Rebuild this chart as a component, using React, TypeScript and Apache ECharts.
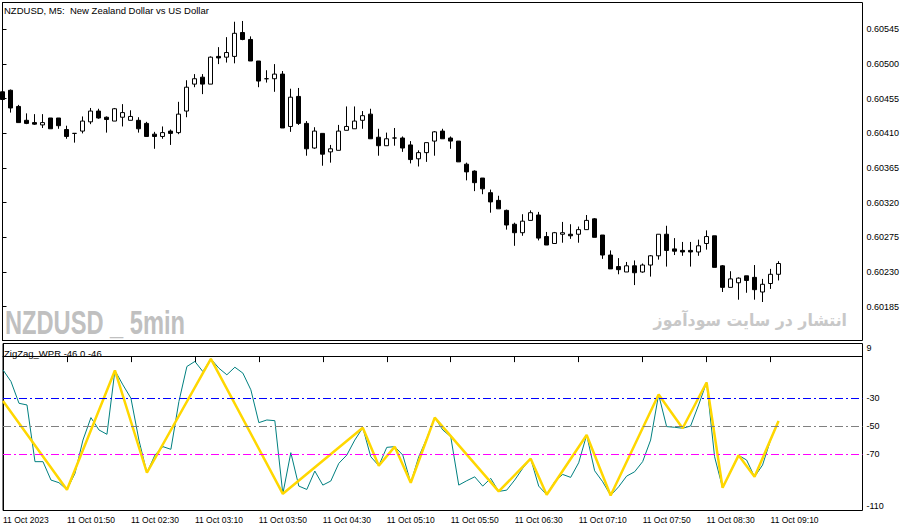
import React, { useEffect, useRef } from 'react';
import * as echarts from 'echarts';

// ---- price data (NZDUSD M5), one entry per bar, bar 0 = 11 Oct 01:10 ----
const opens = [0.60464,0.60466,0.60445,0.60427,0.60424,0.60421,0.60430,0.60430,0.60415,0.60410,
0.60413,0.60425,0.60439,0.60431,0.60426,0.60431,0.60427,0.60427,0.60423,0.60409,
0.60406,0.60413,0.60411,0.60439,0.60474,0.60483,0.60474,0.60510,0.60509,0.60510,
0.60541,0.60532,0.60504,0.60481,0.60481,0.60487,0.60419,0.60458,0.60423,0.60391,
0.60410,0.60386,0.60388,0.60414,0.60416,0.60427,0.60435,0.60405,0.60394,0.60404,
0.60404,0.60395,0.60377,0.60385,0.60400,0.60413,0.60404,0.60400,0.60370,0.60361,
0.60352,0.60333,0.60323,0.60310,0.60292,0.60281,0.60297,0.60304,0.60276,0.60267,
0.60279,0.60279,0.60279,0.60285,0.60299,0.60278,0.60252,0.60237,0.60230,0.60238,
0.60230,0.60239,0.60251,0.60279,0.60260,0.60258,0.60258,0.60256,0.60267,0.60277,
0.60238,0.60210,0.60216,0.60225,0.60223,0.60204,0.60215,0.60227];

const closes = [0.60454,0.60443,0.60424,0.60423,0.60422,0.60424,0.60416,0.60420,0.60406,0.60410,
0.60426,0.60439,0.60430,0.60428,0.60442,0.60437,0.60432,0.60416,0.60406,0.60406,
0.60411,0.60410,0.60435,0.60470,0.60481,0.60474,0.60509,0.60508,0.60515,0.60540,
0.60532,0.60504,0.60478,0.60481,0.60487,0.60417,0.60457,0.60423,0.60390,0.60413,
0.60383,0.60390,0.60413,0.60419,0.60426,0.60433,0.60403,0.60394,0.60403,0.60404,
0.60391,0.60376,0.60385,0.60398,0.60412,0.60403,0.60400,0.60373,0.60360,0.60346,
0.60338,0.60321,0.60312,0.60291,0.60281,0.60296,0.60307,0.60274,0.60265,0.60281,
0.60281,0.60277,0.60285,0.60297,0.60275,0.60252,0.60234,0.60233,0.60238,0.60229,
0.60239,0.60251,0.60279,0.60258,0.60257,0.60256,0.60256,0.60264,0.60276,0.60236,
0.60210,0.60221,0.60222,0.60219,0.60207,0.60214,0.60227,0.60241];

const highs = [0.60466,0.60467,0.60447,0.60436,0.60435,0.60435,0.60430,0.60430,0.60420,0.60410,
0.60432,0.60443,0.60442,0.60432,0.60443,0.60448,0.60440,0.60431,0.60425,0.60412,
0.60419,0.60415,0.60451,0.60479,0.60487,0.60487,0.60510,0.60522,0.60535,0.60555,
0.60556,0.60536,0.60504,0.60492,0.60500,0.60491,0.60468,0.60469,0.60426,0.60418,
0.60410,0.60395,0.60421,0.60445,0.60445,0.60439,0.60442,0.60416,0.60411,0.60417,
0.60406,0.60400,0.60388,0.60398,0.60413,0.60416,0.60406,0.60400,0.60372,0.60362,
0.60352,0.60337,0.60329,0.60311,0.60294,0.60305,0.60310,0.60308,0.60282,0.60282,
0.60295,0.60292,0.60289,0.60304,0.60300,0.60278,0.60258,0.60248,0.60243,0.60245,
0.60241,0.60252,0.60279,0.60290,0.60274,0.60269,0.60269,0.60272,0.60284,0.60277,
0.60239,0.60231,0.60223,0.60225,0.60239,0.60221,0.60234,0.60244];

const lows = [0.60453,0.60437,0.60424,0.60422,0.60421,0.60417,0.60416,0.60416,0.60403,0.60398,
0.60410,0.60422,0.60429,0.60411,0.60426,0.60419,0.60427,0.60411,0.60406,0.60390,
0.60403,0.60395,0.60409,0.60431,0.60470,0.60461,0.60474,0.60500,0.60502,0.60501,
0.60531,0.60504,0.60470,0.60476,0.60464,0.60417,0.60412,0.60421,0.60381,0.60390,
0.60368,0.60372,0.60388,0.60414,0.60416,0.60416,0.60403,0.60381,0.60394,0.60394,
0.60386,0.60371,0.60367,0.60373,0.60381,0.60403,0.60390,0.60373,0.60349,0.60335,
0.60331,0.60307,0.60312,0.60285,0.60264,0.60277,0.60297,0.60271,0.60265,0.60267,
0.60268,0.60273,0.60268,0.60285,0.60275,0.60247,0.60234,0.60227,0.60230,0.60213,
0.60229,0.60224,0.60246,0.60237,0.60252,0.60251,0.60237,0.60251,0.60259,0.60236,
0.60204,0.60210,0.60194,0.60203,0.60194,0.60191,0.60208,0.60219];

// ---- indicator: Williams %R (teal) ----
const wpr = [-9.8,-18.1,-33.6,-34.8,-75.2,-75.2,-88.3,-90.2,-95.2,-83.6,
-59.8,-43.8,-52.6,-55.7,-10.2,-20.5,-30,-59.8,-83.1,-70.5,
-64.5,-66.4,-32.4,-7.4,-3.8,-11,-1.9,-8.6,-13.3,-7.9,
-12.1,-24,-47.4,-45.5,-46,-98.1,-68.8,-92.6,-95,-81.9,
-91.9,-89,-76.4,-70.5,-59.8,-51,-71.7,-78.1,-65,-64.5,
-70.5,-90.2,-71.7,-58.6,-43.8,-52.6,-57.4,-91.9,-88.8,-86,
-92.6,-87.1,-96.4,-95.5,-88.3,-80,-73.1,-92.6,-98.8,-89.5,
-84.3,-86.4,-76,-56.2,-81.7,-89.5,-99.3,-93.1,-85.5,-82.4,
-75.2,-59.8,-27.4,-50.2,-50.7,-51.4,-49.8,-34.8,-18.8,-71.7,
-93.8,-82.4,-70.7,-74,-86,-77.6,-59.8,-46.2];

// ---- zigzag pivots on WPR (yellow) ----
const zzIndex = [0,8,14,18,26,35,45,47,49,51,54,62,66,68,73,76,82,85,88,90,92,94,97];
const zzValue = [-32,-95.2,-10.2,-83.1,-1.9,-98.1,-51,-78.1,-64.5,-90.2,-43.8,-96.4,-73.1,-98.8,-56.2,-99.3,-27.4,-51.4,-18.8,-93.8,-70.7,-86,-46.2];

// ---- levels ----
const levels = [-30, -50, -70];
const levelColors = ['#0000ff', '#808080', '#ff00ff'];

// ---- axis ticks / labels ----
const priceTicks = [0.60185, 0.6023, 0.60275, 0.6032, 0.60365, 0.6041, 0.60455, 0.605, 0.60545];
const wprTicks = [-110, -70, -50, -30, 9];
const timeTickIndex = [0, 8, 16, 24, 32, 40, 48, 56, 64, 72, 80, 88, 96];
const timeLabels = ['11 Oct 2023', '11 Oct 01:50', '11 Oct 02:30', '11 Oct 03:10', '11 Oct 03:50',
  '11 Oct 04:30', '11 Oct 05:10', '11 Oct 05:50', '11 Oct 06:30', '11 Oct 07:10',
  '11 Oct 07:50', '11 Oct 08:30', '11 Oct 09:10'];

const FONT = '"Liberation Sans", Arial, sans-serif';

export default function App() {
  const ref = useRef<HTMLDivElement>(null);

  useEffect(() => {
    const chart = echarts.init(ref.current!, null, { renderer: 'svg' });
    const candleData = opens.map((o, i) => [i, o, closes[i], lows[i], highs[i]]);
    const wprData = wpr.map((v, i) => [i, v]);
    const zzData = zzIndex.map((x, k) => [x, zzValue[k]]);

    const option: any = {
      animation: false,
      backgroundColor: '#ffffff',
      title: [
        {
          text: 'NZDUSD, M5:  New Zealand Dollar vs US Dollar',
          left: 4, top: 5, padding: 0,
          textStyle: { fontSize: 9.5, fontWeight: 'normal', color: '#000', fontFamily: FONT },
        },
        {
          text: 'ZigZag_WPR -46 0 -46',
          left: 4, top: 348.5, padding: 0,
          textStyle: { fontSize: 9.5, fontWeight: 'normal', color: '#000', fontFamily: FONT },
        },
      ],
      grid: [
        { left: 2.5, top: 2.5, width: 860, height: 338, show: true, borderColor: '#000', borderWidth: 1, backgroundColor: 'transparent' },
        { left: 2.5, top: 343.5, width: 860, height: 167, show: true, borderColor: '#000', borderWidth: 1, backgroundColor: 'transparent' },
      ],
      xAxis: [
        { gridIndex: 0, type: 'value', min: 0, max: 107.5, show: false, splitLine: { show: false } },
        {
          gridIndex: 1, type: 'value', min: 0, max: 107.5,
          axisLine: { show: true, lineStyle: { color: '#000', width: 1 } },
          axisTick: { show: true, customValues: timeTickIndex, length: 6, lineStyle: { color: '#000', width: 1 } },
          axisLabel: {
            show: true, customValues: timeTickIndex, align: 'left', margin: 5,
            fontSize: 8.5, color: '#000', fontFamily: FONT,
            formatter: (v: number) => { const k = timeTickIndex.indexOf(Math.round(v)); return k >= 0 ? timeLabels[k] : ''; },
          },
          splitLine: { show: false },
        },
      ],
      yAxis: [
        {
          gridIndex: 0, type: 'value', position: 'right', min: 0.60141, max: 0.6058, scale: true,
          axisLine: { show: true, lineStyle: { color: '#000', width: 1 } },
          axisTick: { show: true, customValues: priceTicks, length: 4, lineStyle: { color: '#000', width: 1 } },
          axisLabel: {
            show: true, customValues: priceTicks, margin: 4, fontSize: 9, color: '#000', fontFamily: FONT,
            formatter: (v: number) => v.toFixed(5),
          },
          splitLine: { show: false },
        },
        {
          gridIndex: 1, type: 'value', position: 'right', min: -110, max: 9,
          axisLine: { show: true, lineStyle: { color: '#000', width: 1 } },
          axisTick: { show: true, customValues: wprTicks, length: 4, lineStyle: { color: '#000', width: 1 } },
          axisLabel: {
            show: true, customValues: wprTicks, margin: 4, fontSize: 9, color: '#000', fontFamily: FONT,
            verticalAlignMinLabel: 'bottom', verticalAlignMaxLabel: 'top',
            formatter: (v: number) => String(v),
          },
          splitLine: { show: false },
        },
      ],
      series: [
        {
          type: 'candlestick', xAxisIndex: 0, yAxisIndex: 0,
          data: candleData, encode: { x: 0, y: [1, 2, 3, 4] },
          barWidth: 4, clip: true,
          itemStyle: { color: '#ffffff', color0: '#000000', borderColor: '#000000', borderColor0: '#000000', borderColorDoji: '#000000', borderWidth: 1 },
          emphasis: { disabled: true }, silent: true,
        },
        {
          type: 'line', xAxisIndex: 1, yAxisIndex: 1, data: [], z: 1, silent: true,
          markLine: {
            silent: true, symbol: 'none', label: { show: false }, animation: false,
            emphasis: { disabled: true },
            data: levels.map((v, k) => ({ yAxis: v, lineStyle: { color: levelColors[k], width: 1, type: [8, 3, 2, 3] } })),
          },
        },
        {
          type: 'line', xAxisIndex: 1, yAxisIndex: 1, data: wprData, z: 2,
          symbol: 'none', showSymbol: false, silent: true,
          lineStyle: { color: '#008080', width: 1 }, emphasis: { disabled: true },
        },
        {
          type: 'line', xAxisIndex: 1, yAxisIndex: 1, data: zzData, z: 3,
          symbol: 'none', showSymbol: false, silent: true,
          lineStyle: { color: '#ffd700', width: 2.5 }, emphasis: { disabled: true },
        },
      ],
      graphic: [
        {
          type: 'text', x: 5, y: 322.5, scaleX: 0.717, silent: true, z: 0,
          style: {
            text: 'NZDUSD _ 5min', font: 'bold 33px "Liberation Sans", Arial, sans-serif',
            fill: '#c0c0c0', textAlign: 'left', textVerticalAlign: 'middle', align: 'left', verticalAlign: 'middle',
          },
        },
        {
          type: 'text', x: 847, y: 320.5, scaleX: 0.925, silent: true, z: 0,
          style: {
            text: 'انتشار در سایت سودآموز', font: 'bold 17px "DejaVu Sans", sans-serif',
            fill: '#c8c8c8', textAlign: 'right', textVerticalAlign: 'middle', align: 'right', verticalAlign: 'middle',
          },
        },
      ],
    };

    chart.setOption(option);
    return () => chart.dispose();
  }, []);

  return (
    <div
      ref={ref}
      style={{ position: 'fixed', left: 0, top: 0, width: 915, height: 532, background: '#ffffff' }}
    />
  );
}
